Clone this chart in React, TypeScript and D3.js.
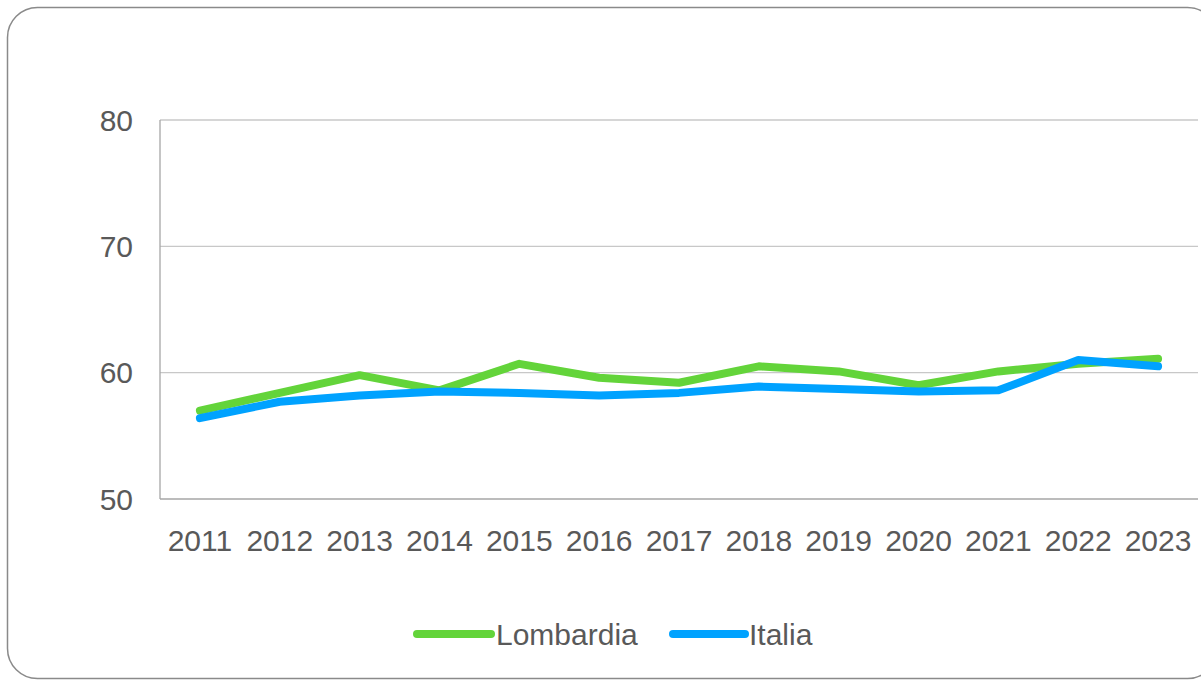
import React from "react";
import * as d3 from "d3";

const years = ["2011","2012","2013","2014","2015","2016","2017","2018","2019","2020","2021","2022","2023"];
const lombardia = [57.0, 58.4, 59.8, 58.6, 60.7, 59.6, 59.2, 60.5, 60.1, 59.0, 60.1, 60.7, 61.1];
const italia = [56.4, 57.7, 58.2, 58.5, 58.4, 58.2, 58.4, 58.9, 58.7, 58.5, 58.6, 61.0, 60.5];
const yTicks = [50, 60, 70, 80];
const seriesNames = ["Lombardia", "Italia"];
const colors = ["#63d43a", "#00a2ff"];

export default function App() {
  const W = 1201, H = 681;
  const left = 160, right = 1198, top = 120, bottom = 499;
  const x = d3.scaleBand().domain(years).range([left, right]).padding(0);
  const y = d3.scaleLinear().domain([50, 80]).range([bottom, top]);
  const cx = (d: string) => (x(d) as number) + x.bandwidth() / 2;
  const line = d3.line<number>().x((_, i) => cx(years[i])).y((v) => y(v));
  const series = [lombardia, italia];
  const font = "'Liberation Sans', Arial, sans-serif";
  const textColor = "#595959";
  const legend = [
    { x1: 417, x2: 491, tx: 496 },
    { x1: 673, x2: 745, tx: 749 },
  ];
  return (
    <svg width={W} height={H} style={{ position: "absolute", left: 0, top: 0 }}>
      <rect x={0} y={0} width={W} height={H} fill="#ffffff" />
      <rect x={7.5} y={7.5} width={1210} height={671} rx={30} ry={30} fill="#ffffff" stroke="#8a8a8a" strokeWidth={1.5} />
      {yTicks.map((t) => (
        <line key={t} x1={left} x2={right} y1={y(t)} y2={y(t)} stroke={t === 50 ? "#a6a6a6" : "#c8c8c8"} strokeWidth={1.3} />
      ))}
      <line x1={left} x2={left} y1={top} y2={bottom} stroke="#a6a6a6" strokeWidth={1.3} />
      {yTicks.map((t) => (
        <text key={"l" + t} x={133} y={y(t)} dy="0.35em" textAnchor="end" fontFamily={font} fontSize={30} fill={textColor}>{t}</text>
      ))}
      {years.map((yr) => (
        <text key={yr} x={cx(yr)} y={551} textAnchor="middle" fontFamily={font} fontSize={30} fill={textColor}>{yr}</text>
      ))}
      {series.map((s, i) => (
        <path key={i} d={line(s) as string} fill="none" stroke={colors[i]} strokeWidth={8} strokeLinejoin="round" strokeLinecap="round" />
      ))}
      {seriesNames.map((n, i) => (
        <g key={n}>
          <line x1={legend[i].x1} x2={legend[i].x2} y1={634} y2={634} stroke={colors[i]} strokeWidth={8} strokeLinecap="round" />
          <text x={legend[i].tx} y={634} dy="0.35em" fontFamily={font} fontSize={30} fill={textColor}>{n}</text>
        </g>
      ))}
    </svg>
  );
}
